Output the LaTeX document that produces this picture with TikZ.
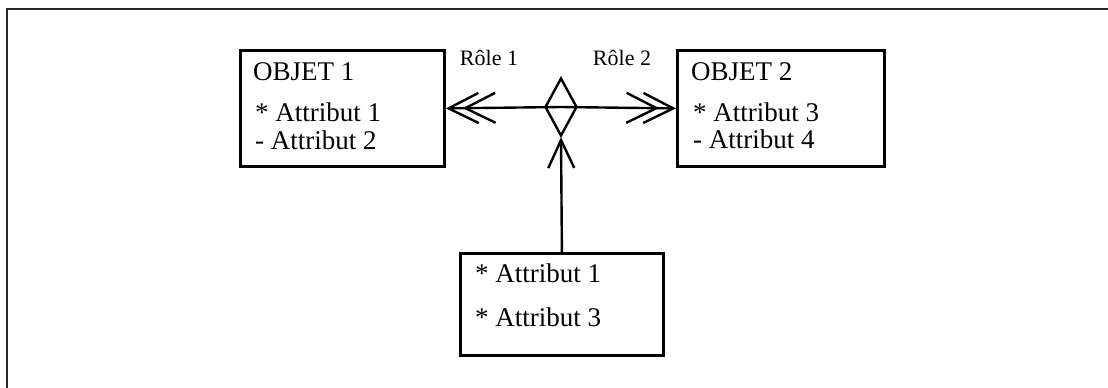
\documentclass[tikz,border=0pt]{standalone}
\usepackage{fontspec}
\setmainfont{Liberation Serif}
\usetikzlibrary{positioning,shapes.geometric,arrows.meta}

\begin{document}
\begin{tikzpicture}[x=1pt, y=-1pt,
  cadre/.style  ={line width=2.8pt, draw=black!85},
  boite/.style  ={rectangle, draw=black, line width=2.8pt, inner sep=0pt, anchor=north west},
  losange/.style={diamond, draw=black, line width=2.4pt, inner sep=0pt, minimum width=32pt, minimum height=58pt},
  lien/.style   ={line width=2.4pt, draw=black},
  txt/.style    ={font=\fontsize{27}{32}\selectfont, anchor=base west, inner sep=0pt},
  role/.style   ={font=\fontsize{22}{26}\selectfont, anchor=base, inner sep=0pt},
  dbl/.style    ={-{Straight Barb[length=30pt,width=30pt,sep=-17pt] Straight Barb[length=30pt,width=30pt]}},
  pied/.style   ={-{Straight Barb[length=28pt,width=26pt]}},
]
\useasboundingbox (0,0) rectangle (1108,388);
% frame (cut at right and bottom)
\draw[cadre] (7,388) -- (7,9) -- (1108,9);
% objects
\node[boite, minimum width=204pt, minimum height=116pt] (obj1) at (239,49) {};
\node[boite, minimum width=207pt, minimum height=116pt] (obj2) at (676,49) {};
\node[boite, minimum width=203pt, minimum height=102pt] (cible) at (459,252) {};
\node[losange] (assoc) at (561,107) {};
% texts
\node[txt] (t11) at (253,80)  {OBJET 1};
\node[txt] (t12) at (255,121) {* Attribut 1};
\node[txt] (t13) at (255,149) {- Attribut 2};
\node[txt] (t21) at (691,80)  {OBJET 2};
\node[txt] (t22) at (693,121) {* Attribut 3};
\node[txt] (t23) at (693,148) {- Attribut 4};
\node[txt] (t31) at (475,282) {* Attribut 1};
\node[txt] (t32) at (475,326) {* Attribut 3};
\node[role] (r1) at (489,65) {Rôle 1};
\node[role] (r2) at (622,65) {Rôle 2};
% links
\draw[lien, dbl]  (assoc.center) -- (obj1.east);
\draw[lien, dbl]  (assoc.center) -- (obj2.west);
\draw[lien, pied] (cible.north)  -- (assoc.south);
\end{tikzpicture}
\end{document}
